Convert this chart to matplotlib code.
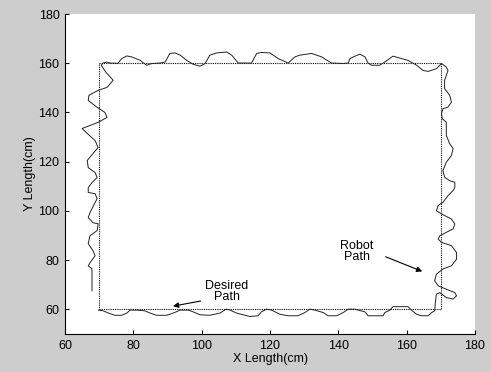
import numpy as np
import matplotlib
matplotlib.use("Agg")
import matplotlib.pyplot as plt

plt.rcParams['font.family'] = ['Liberation Sans', 'DejaVu Sans']

# desired path (rectangle corners)
desired_x = [70, 170, 170, 70, 70]
desired_y = [60, 60, 160, 160, 60]

# robot path
left_x = [67.9, 67.9, 66.8, 67.3, 68.8, 68.2, 66.8, 67.3, 69.4, 69.7,
          68.2, 66.8, 67.3, 69.4, 68.8, 66.8, 66.8, 67.9, 69.4, 68.8,
          66.8, 66.5, 68.2, 69.7, 68.8, 66.5, 65.0, 67.3, 69.7, 72.3,
          71.7, 69.4, 66.8, 67.0, 69.7, 72.3, 74.1, 72.0, 70.6]
left_y = [67.5, 76.5, 77.7, 78.9, 81.8, 83.8, 86.7, 89.9, 92.0, 94.8,
          95.2, 97.3, 99.3, 105.0, 107.0, 107.5, 109.5, 111.5, 113.6, 115.6,
          117.6, 120.5, 123.3, 125.8, 128.6, 131.5, 133.5, 134.7, 136.0, 138.0,
          140.0, 142.1, 144.9, 147.0, 149.0, 150.2, 153.1, 156.3, 159.2]

top_x = [71.1, 72.2, 73.2, 75.5, 76.6, 78.1, 79.5, 82.0, 83.9, 85.4,
         87.8, 89.3, 90.7, 92.2, 93.7, 95.6, 97.5, 99.5, 101.0, 102.4,
         104.4, 107.3, 108.8, 110.7, 114.6, 116.1, 117.5, 120.0, 122.4, 125.3,
         127.3, 128.7, 132.2, 135.1, 138.0, 141.4, 142.9, 143.4, 144.4, 146.3,
         147.8, 148.7, 149.7, 152.1, 153.6, 156.0, 158.5, 160.4, 162.9, 164.8,
         166.3, 168.7]
top_y = [160.1, 160.5, 160.1, 160.0, 161.9, 163.0, 162.6, 161.2, 159.2, 159.9,
         160.1, 160.5, 164.0, 164.2, 163.3, 161.2, 159.6, 158.8, 159.9, 163.3,
         164.2, 164.6, 163.3, 160.1, 160.1, 164.0, 164.4, 164.2, 161.9, 160.1,
         162.6, 163.3, 164.0, 162.6, 160.1, 159.9, 160.1, 161.9, 162.6, 163.7,
         162.6, 160.1, 159.2, 159.2, 160.5, 162.9, 161.9, 161.2, 159.2, 157.1,
         156.7, 157.8]

right_x = [170.2, 171.6, 172.1, 171.6, 171.1, 171.1, 172.6, 173.1, 172.1, 170.6,
           170.2, 170.4, 171.6, 171.6, 172.6, 173.6, 173.1, 171.6, 170.6, 171.1,
           172.6, 174.1, 174.1, 173.6, 172.1, 170.6, 169.2, 168.7, 170.2, 173.1,
           174.1, 173.6, 171.6, 169.7, 169.2, 170.2, 173.1, 174.6, 174.6, 173.1,
           170.6, 168.7, 168.2, 169.2, 171.6, 174.1, 174.6, 173.6, 171.6, 169.7,
           168.7, 168.4, 168.2]
right_y = [159.9, 158.5, 157.1, 155.1, 153.1, 149.7, 147.0, 144.2, 142.2, 141.5,
           139.5, 137.5, 136.1, 130.7, 127.3, 125.3, 122.5, 119.8, 116.4, 113.7,
           112.3, 111.6, 109.6, 108.3, 106.2, 103.5, 102.2, 100.1, 98.8, 96.7,
           94.7, 92.7, 91.3, 89.9, 88.6, 87.2, 85.9, 83.1, 80.4, 77.7,
           76.4, 74.3, 71.6, 69.6, 68.2, 66.8, 65.5, 64.2, 64.8, 66.8,
           66.2, 62.8, 59.4]

bottom_x = [167.3, 166.3, 164.3, 162.9, 161.4, 160.4, 156.0, 155.1, 153.6, 153.1,
            148.7, 147.8, 145.8, 144.8, 142.9, 141.4, 139.5, 137.0, 135.6, 133.1,
            131.7, 130.2, 128.2, 125.3, 122.9, 120.5, 119.0, 117.5, 116.5, 114.1,
            112.2, 110.2, 108.3, 107.3, 106.8, 105.4, 102.4, 99.5, 97.5, 96.1,
            93.7, 91.7, 89.8, 86.8, 84.9, 83.4, 81.0, 79.0, 78.1, 76.6,
            74.6, 72.7, 71.2, 69.8]
bottom_y = [58.7, 57.4, 57.4, 58.0, 59.7, 61.1, 61.1, 59.7, 58.7, 57.4,
            57.4, 59.0, 59.7, 60.1, 60.1, 58.7, 57.4, 57.4, 58.7, 59.7,
            60.1, 58.7, 57.4, 57.4, 58.0, 59.7, 60.1, 59.0, 57.4, 57.1,
            57.8, 58.5, 59.7, 60.1, 59.8, 58.5, 57.6, 57.8, 59.0, 59.7,
            59.7, 58.5, 57.6, 57.6, 58.5, 59.4, 59.7, 59.7, 58.5, 57.6,
            57.6, 58.5, 59.4, 59.7]

x_ticks = [60, 80, 100, 120, 140, 160, 180]
y_ticks = [60, 80, 100, 120, 140, 160, 180]

robot_x = np.concatenate([left_x, top_x, right_x, bottom_x])
robot_y = np.concatenate([left_y, top_y, right_y, bottom_y])

fig = plt.figure(figsize=(4.91, 3.72), dpi=100, facecolor='#cdcdcd')
ax = fig.add_axes([0.1324, 0.1022, 0.835, 0.860])
ax.set_facecolor('white')

ax.plot(desired_x, desired_y, color='k', lw=0.8, linestyle=(0, (1, 1)))
ax.plot(robot_x, robot_y, color='#222222', lw=0.7)

# annotations
ax.text(107.3, 67.2, 'Desired\nPath', ha='center', va='center', fontsize=9, linespacing=0.95)
ax.annotate('', xy=(90.8, 61.1), xytext=(100.5, 63.6),
            arrowprops=dict(arrowstyle='-|>', color='k', lw=0.8, mutation_scale=8))
ax.text(145.5, 83.5, 'Robot\nPath', ha='center', va='center', fontsize=9, linespacing=0.95)
ax.annotate('', xy=(165.3, 75.0), xytext=(153.1, 81.8),
            arrowprops=dict(arrowstyle='-|>', color='k', lw=0.8, mutation_scale=8))

ax.set_xlim(60, 180)
ax.set_ylim(50, 180)
ax.set_xticks(x_ticks)
ax.set_yticks(y_ticks)
ax.tick_params(direction='in', length=3, width=0.8, labelsize=9, pad=4)
ax.spines['top'].set_visible(False)
ax.spines['right'].set_visible(False)
ax.set_xlabel('X Length(cm)', fontsize=9, labelpad=1)
ax.set_ylabel('Y Length(cm)', fontsize=9, labelpad=2)

fig.savefig('out.png', dpi=100, facecolor=fig.get_facecolor())
